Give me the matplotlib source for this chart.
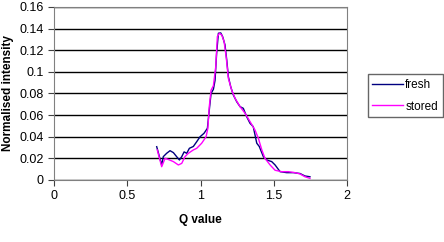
import matplotlib
matplotlib.use('Agg')
import matplotlib.pyplot as plt

plt.rcParams['font.family'] = ['Liberation Sans', 'DejaVu Sans']

fresh_q = [0.701, 0.735, 0.746, 0.769, 0.792, 0.815, 0.837, 0.856, 0.872, 0.888,
           0.906, 0.924, 0.951, 0.974, 0.997, 1.024, 1.047, 1.06, 1.072, 1.088,
           1.099, 1.11, 1.122, 1.138, 1.151, 1.167, 1.179, 1.19, 1.206, 1.224,
           1.247, 1.27, 1.292, 1.315, 1.338, 1.36, 1.384, 1.401, 1.429, 1.452,
           1.486, 1.509, 1.543, 1.588, 1.634, 1.679, 1.713, 1.747]
fresh_i = [0.0308, 0.0139, 0.0216, 0.0247, 0.0271, 0.0253, 0.0216, 0.0185, 0.0216, 0.026,
           0.0247, 0.0293, 0.031, 0.0354, 0.040, 0.0432, 0.0478, 0.0648, 0.080, 0.0839,
           0.092, 0.117, 0.1357, 0.136, 0.1326, 0.125, 0.111, 0.0956, 0.0863, 0.0786,
           0.0724, 0.0678, 0.0663, 0.0586, 0.0524, 0.0493, 0.034, 0.031, 0.0216, 0.0185,
           0.017, 0.0139, 0.0077, 0.0068, 0.0068, 0.006, 0.0037, 0.003]

stored_q = [0.705, 0.735, 0.758, 0.78, 0.815, 0.849, 0.872, 0.894, 0.917, 0.951,
            0.974, 1.008, 1.038, 1.05, 1.06, 1.072, 1.088, 1.104, 1.115, 1.129,
            1.145, 1.161, 1.175, 1.19, 1.213, 1.236, 1.27, 1.304, 1.338, 1.372,
            1.395, 1.418, 1.44, 1.475, 1.509, 1.554, 1.6, 1.645, 1.679, 1.713, 1.747]
stored_i = [0.0278, 0.0123, 0.020, 0.019, 0.017, 0.0139, 0.0154, 0.0216, 0.0247, 0.0278,
            0.0293, 0.034, 0.040, 0.0478, 0.068, 0.083, 0.0872, 0.1048, 0.1326, 0.1357,
            0.134, 0.128, 0.114, 0.094, 0.083, 0.0755, 0.0678, 0.0617, 0.054, 0.0462,
            0.0385, 0.028, 0.020, 0.0139, 0.009, 0.0077, 0.0077, 0.0068, 0.0056, 0.003, 0.0015]

x_ticks = [0, 0.5, 1, 1.5, 2]
x_labels = ['0', '0.5', '1', '1.5', '2']
y_ticks = [0, 0.02, 0.04, 0.06, 0.08, 0.1, 0.12, 0.14, 0.16]
y_labels = ['0', '0.02', '0.04', '0.06', '0.08', '0.1', '0.12', '0.14', '0.16']

fig = plt.figure(figsize=(4.44, 2.42), dpi=100)
ax = fig.add_axes([0.1216, 0.2562, 0.66, 0.715])

ax.plot(fresh_q, fresh_i, color='#000080', lw=1, label='fresh')
ax.plot(stored_q, stored_i, color='#ff00ff', lw=1, label='stored')

ax.set_xlim(0, 2)
ax.set_ylim(0, 0.16)
ax.set_xticks(x_ticks)
ax.set_xticklabels(x_labels)
ax.set_yticks(y_ticks)
ax.set_yticklabels(y_labels)
ax.yaxis.grid(True, color='black', lw=1)
ax.set_axisbelow(True)
for s in ax.spines.values():
    s.set_color('#808080')
ax.tick_params(labelsize=9, color='#404040', length=4, direction='out')

ax.set_xlabel('Q value', fontsize=8.5, fontweight='bold', labelpad=8)
ax.set_ylabel('Normalised intensity', fontsize=8.5, fontweight='bold', labelpad=4)

leg = ax.legend(loc='upper left', bbox_to_anchor=(1.07, 0.61), fontsize=8.5,
                frameon=True, fancybox=False, handlelength=2.6, handletextpad=0.2,
                borderpad=0.4, labelspacing=0.8, borderaxespad=0)
leg.get_frame().set_edgecolor('#404040')
leg.get_frame().set_linewidth(1)

fig.savefig('out.png', dpi=100)
